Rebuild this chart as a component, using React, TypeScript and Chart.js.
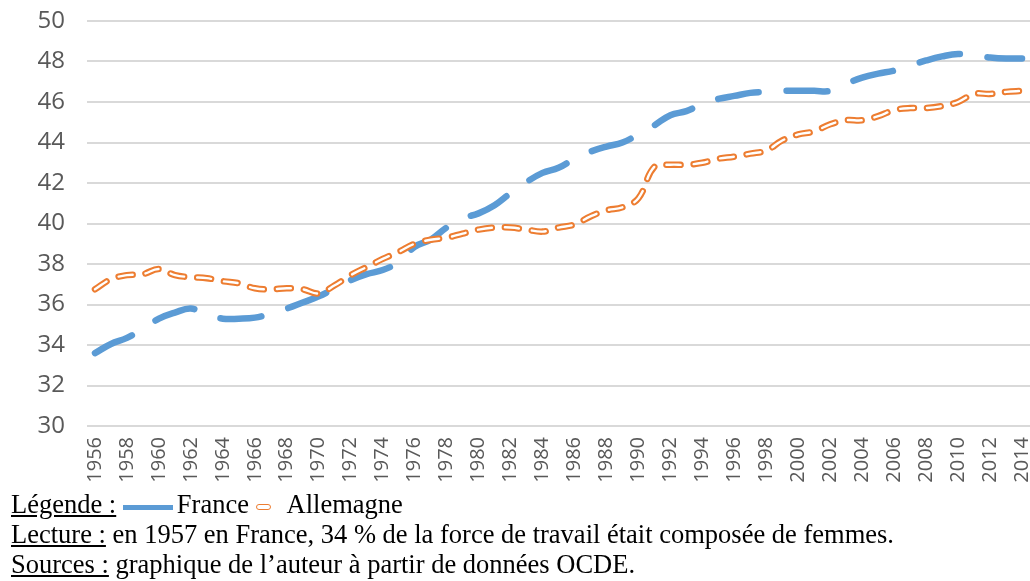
import React, { useEffect, useRef } from "react";
import { Chart, registerables } from "chart.js";

Chart.register(...registerables);

const years: string[] = [
  "1956", "1957", "1958", "1959", "1960", "1961", "1962", "1963", "1964", "1965",
  "1966", "1967", "1968", "1969", "1970", "1971", "1972", "1973", "1974", "1975",
  "1976", "1977", "1978", "1979", "1980", "1981", "1982", "1983", "1984", "1985",
  "1986", "1987", "1988", "1989", "1990", "1991", "1992", "1993", "1994", "1995",
  "1996", "1997", "1998", "1999", "2000", "2001", "2002", "2003", "2004", "2005",
  "2006", "2007", "2008", "2009", "2010", "2011", "2012", "2013", "2014",
];

const france: number[] = [
  33.6, 34.05, 34.35, 34.8, 35.3, 35.6, 35.8, 35.5, 35.3, 35.3,
  35.35, 35.55, 35.8, 36.1, 36.4, 36.8, 37.2, 37.5, 37.7, 38.1,
  38.85, 39.2, 39.8, 40.25, 40.5, 40.9, 41.5, 42.05, 42.5, 42.75,
  43.2, 43.55, 43.8, 44.0, 44.4, 44.85, 45.35, 45.55, 45.9, 46.15,
  46.3, 46.45, 46.5, 46.55, 46.55, 46.55, 46.55, 46.9, 47.2, 47.4,
  47.55, 47.8, 48.05, 48.25, 48.37, 48.3, 48.2, 48.15, 48.15,
];

const allemagne: number[] = [
  36.75, 37.25, 37.45, 37.5, 37.75, 37.45, 37.35, 37.3, 37.15, 37.05,
  36.8, 36.75, 36.8, 36.75, 36.55, 36.95, 37.45, 37.85, 38.25, 38.6,
  39.0, 39.2, 39.3, 39.5, 39.7, 39.8, 39.8, 39.7, 39.6, 39.8,
  39.95, 40.35, 40.65, 40.8, 41.25, 42.8, 42.9, 42.9, 43.0, 43.2,
  43.3, 43.45, 43.6, 44.1, 44.4, 44.55, 44.9, 45.1, 45.1, 45.3,
  45.6, 45.7, 45.7, 45.8, 46.0, 46.4, 46.4, 46.5, 46.55,
];

const yMin = 30;
const yMax = 50;
const yStep = 2;

const BLUE = "#5B9BD5";
const ORANGE = "#ED7D31";

function ChartCanvas() {
  const ref = useRef<HTMLCanvasElement | null>(null);
  useEffect(() => {
    if (!ref.current) return;
    const chart = new Chart(ref.current, {
      type: "line",
      data: {
        labels: years,
        datasets: [
          {
            label: "France",
            data: france,
            borderColor: BLUE,
            borderWidth: 6.5,
            borderDash: [41, 28],
            borderCapStyle: "round",
            borderJoinStyle: "round",
            pointRadius: 0,
            tension: 0.4,
            fill: false,
            order: 3,
          },
          {
            label: "Allemagne",
            data: allemagne,
            borderColor: ORANGE,
            borderWidth: 6.5,
            borderDash: [14, 13],
            borderCapStyle: "round",
            borderJoinStyle: "round",
            pointRadius: 0,
            tension: 0.4,
            fill: false,
            order: 2,
          },
          {
            label: "Allemagne-inner",
            data: allemagne,
            borderColor: "#FFFFFF",
            borderWidth: 2.4,
            borderDash: [14, 13],
            borderCapStyle: "round",
            borderJoinStyle: "round",
            pointRadius: 0,
            tension: 0.4,
            fill: false,
            order: 1,
          },
        ],
      },
      options: {
        animation: false,
        responsive: false,
        devicePixelRatio: 1,
        layout: { padding: { top: 21, left: 0, right: 0, bottom: 0 } },
        plugins: {
          legend: { display: false },
          tooltip: { enabled: false },
        },
        scales: {
          x: {
            offset: true,
            grid: { display: false, drawTicks: false },
            border: { display: false },
            afterFit: (scale: any) => {
              scale.height = 64;
              scale.paddingLeft = 0;
              scale.paddingRight = 0;
            },
            ticks: {
              autoSkip: false,
              minRotation: 90,
              maxRotation: 90,
              padding: 11,
              color: "#595959",
              font: { family: "'Open Sans'", size: 20 },
              callback: (_v: any, i: number) => (i % 2 === 0 ? years[i] : ""),
            },
          },
          y: {
            min: yMin,
            max: yMax,
            border: { display: false },
            grid: { color: "#D9D9D9", lineWidth: 2, drawTicks: false },
            afterFit: (scale: any) => {
              scale.width = 87;
              scale.paddingTop = 0;
              scale.paddingBottom = 0;
            },
            ticks: {
              stepSize: yStep,
              padding: 22,
              color: "#595959",
              font: { family: "'Open Sans'", size: 24 },
            },
          },
        },
      },
    });
    return () => chart.destroy();
  }, []);
  return <canvas ref={ref} width={1030} height={490} style={{ display: "block" }} />;
}

const textStyle: React.CSSProperties = {
  fontFamily: "'Liberation Serif', 'Times New Roman', serif",
  fontSize: "26.5px",
  lineHeight: "30px",
  color: "#000",
  whiteSpace: "nowrap",
};

export default function App() {
  return (
    <div style={{ position: "absolute", left: 0, top: 0, width: 1030, height: 581, background: "#fff" }}>
      <div style={{ position: "absolute", left: 0, top: 0 }}>
        <ChartCanvas />
      </div>
      <div style={{ position: "absolute", left: 11, top: 489, ...textStyle }}>
        <div>
          <span style={{ textDecoration: "underline" }}>Légende :</span>{" "}
          <span
            style={{
              display: "inline-block",
              width: 50,
              height: 5,
              background: BLUE,
              verticalAlign: "3px",
              marginRight: 4,
            }}
          />
          France{" "}
          <span
            style={{
              display: "inline-block",
              width: 15,
              height: 6,
              boxSizing: "border-box",
              border: `1.8px solid ${ORANGE}`,
              borderRadius: 3,
              background: "#fff",
              verticalAlign: "3px",
              marginRight: 16,
            }}
          />
          Allemagne
        </div>
        <div>
          <span style={{ textDecoration: "underline" }}>Lecture :</span> en 1957 en France, 34 % de la force de travail était composée de femmes.
        </div>
        <div>
          <span style={{ textDecoration: "underline" }}>Sources :</span> graphique de l’auteur à partir de données OCDE.
        </div>
      </div>
    </div>
  );
}
